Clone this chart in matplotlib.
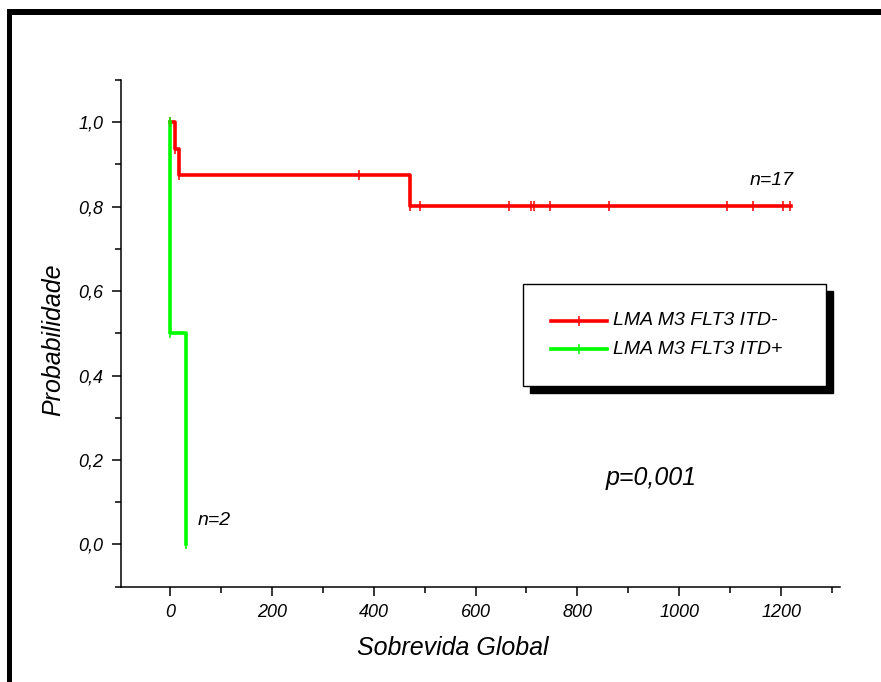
import matplotlib
matplotlib.use("Agg")
import matplotlib.pyplot as plt
from matplotlib.patches import Rectangle
from matplotlib.lines import Line2D
from matplotlib.ticker import FixedLocator, FuncFormatter

plt.rcParams['font.family'] = ['Liberation Sans', 'DejaVu Sans']

# ---- data ----
series_labels = ["LMA M3 FLT3 ITD-", "LMA M3 FLT3 ITD+"]
red_times = [0, 10, 18, 471, 1219]
red_surv = [1.0, 0.9375, 0.875, 0.802, 0.802]
red_censor_times = [372, 490, 666, 708, 715, 746, 862, 1093, 1144, 1204, 1218]
red_censor_surv = [0.875, 0.802, 0.802, 0.802, 0.802, 0.802, 0.802, 0.802, 0.802, 0.802, 0.802]
green_times = [0, 0, 31]
green_surv = [1.0, 0.5, 0.0]
xticks = [0, 200, 400, 600, 800, 1000, 1200]
xminor = [100, 300, 500, 700, 900, 1100, 1300]
yticks = [0.0, 0.2, 0.4, 0.6, 0.8, 1.0]
yminor = [-0.1, 0.1, 0.3, 0.5, 0.7, 0.9, 1.1]
annotations = [("n=17", 1138, 0.852), ("n=2", 54, 0.047)]
p_text = "p=0,001"

W, H = 881, 682
fig = plt.figure(figsize=(W / 100, H / 100), dpi=100)

def fx(px):
    return px / W

def fy(py):
    return 1 - py / H

ax = fig.add_axes([fx(120.7), fy(586.7), fx(840) - fx(120.7), fy(80) - fy(586.7)])
ax.set_xlim(-96.8, 1315.8)
ax.set_ylim(-0.1, 1.1)

RED = '#ff0000'
GREEN = '#00ff00'
LW = 2.6
MS = 7.7
MEW = 1.1

ax.plot(red_times, red_surv, drawstyle='steps-post', color=RED, lw=LW, zorder=3)
ax.plot(red_times[:-1], red_surv[:-1], ls='none', marker='|', ms=MS, mew=MEW, color=RED, zorder=4)
ax.plot(red_censor_times, red_censor_surv, ls='none', marker='|', ms=MS, mew=MEW, color=RED, zorder=4)

ax.plot(green_times, green_surv, drawstyle='steps-post', color=GREEN, lw=LW, zorder=3)
ax.plot(green_times, green_surv, ls='none', marker='|', ms=MS, mew=MEW, color=GREEN, zorder=4)

for s in ['top', 'right']:
    ax.spines[s].set_visible(False)
for s in ['left', 'bottom']:
    ax.spines[s].set_linewidth(1.1)

ax.xaxis.set_major_locator(FixedLocator(xticks))
ax.xaxis.set_minor_locator(FixedLocator(xminor))
ax.yaxis.set_major_locator(FixedLocator(yticks))
ax.yaxis.set_minor_locator(FixedLocator(yminor))
ax.yaxis.set_major_formatter(FuncFormatter(lambda v, p: f"{v:.1f}".replace('.', ',')))
ax.xaxis.set_major_formatter(FuncFormatter(lambda v, p: f"{int(round(v))}"))
ax.tick_params(which='major', direction='out', length=6.5, width=1.1, labelsize=13, pad=6)
ax.tick_params(which='minor', direction='out', length=4.3, width=1.1)
for lab in ax.get_xticklabels() + ax.get_yticklabels():
    lab.set_fontstyle('italic')

# axis labels
fig.text(fx(53), fy(340), "Probabilidade", rotation=90, ha='center', va='center',
         fontsize=18, style='italic')
fig.text(fx(452.5), fy(655), "Sobrevida Global", ha='center', va='baseline',
         fontsize=18, style='italic')

for txt, x, y in annotations:
    ax.text(x, y, txt, ha='left', va='baseline', fontsize=14, style='italic')
ax.text(944, 0.142, p_text, ha='center', va='baseline', fontsize=18, style='italic')

# legend (box with black shadow)
bx0, by0, bx1, by1 = 523.3, 284, 825.7, 385.7
off = 7
fig.patches.append(Rectangle((fx(bx0 + off), fy(by1 + off)), fx(bx1) - fx(bx0), fy(by0) - fy(by1),
                             transform=fig.transFigure, facecolor='black', edgecolor='black', zorder=5))
fig.patches.append(Rectangle((fx(bx0), fy(by1)), fx(bx1) - fx(bx0), fy(by0) - fy(by1),
                             transform=fig.transFigure, facecolor='white', edgecolor='black',
                             lw=1.0, zorder=6))
for color, label, ly in [(RED, series_labels[0], 320.7), (GREEN, series_labels[1], 349.3)]:
    fig.lines.append(Line2D([fx(551), fx(606.7)], [fy(ly), fy(ly)], transform=fig.transFigure,
                            color=color, lw=LW, zorder=7))
    fig.lines.append(Line2D([fx(579)], [fy(ly)], transform=fig.transFigure, ls='none',
                            marker='|', ms=MS, mew=MEW, color=color, zorder=7))
    fig.text(fx(612.7), fy(ly), label, ha='left', va='center', fontsize=14, style='italic', zorder=8)

# outer frame (top and left thick black bands)
fig.patches.append(Rectangle((fx(7), fy(15)), fx(881) - fx(7), fy(9) - fy(15),
                             transform=fig.transFigure, facecolor='black', edgecolor='none', zorder=10))
fig.patches.append(Rectangle((fx(7), fy(682)), fx(12) - fx(7), fy(9) - fy(682),
                             transform=fig.transFigure, facecolor='black', edgecolor='none', zorder=10))

fig.savefig("out.png", dpi=100)
